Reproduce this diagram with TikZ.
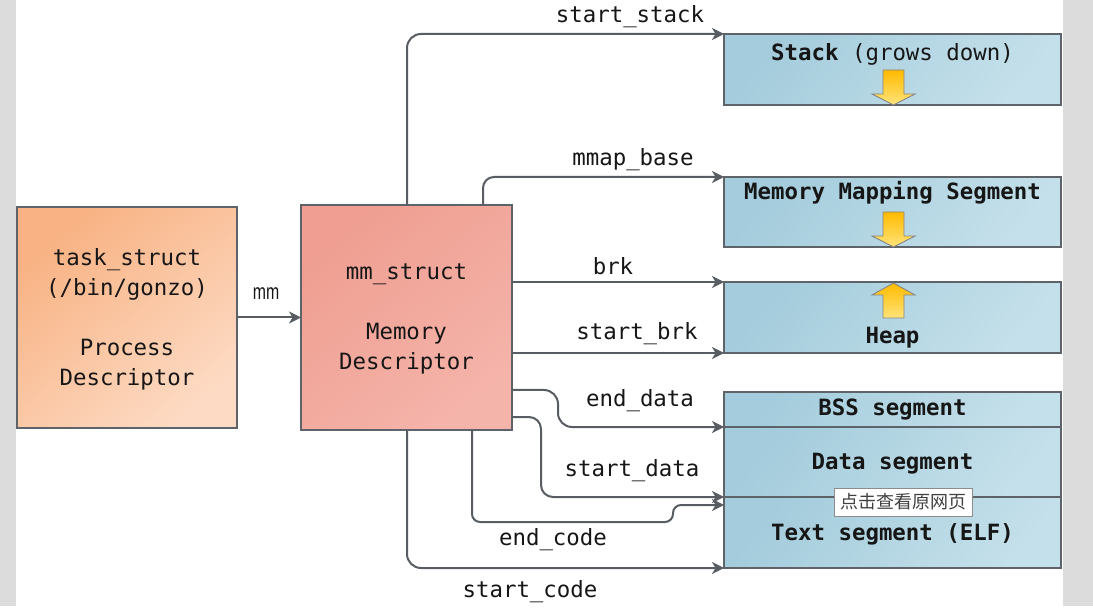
\documentclass[tikz,border=0pt]{standalone}
\usepackage{fontspec}
\setmainfont{DejaVu Sans Mono}
\newfontfamily\labelsans{Liberation Sans}
\newfontfamily\cjkfont{Noto Sans CJK SC}
\usetikzlibrary{arrows.meta,calc}
\definecolor{stripgrey}{HTML}{DCDCDC}
\definecolor{linegrey}{HTML}{585D63}
\definecolor{boxedge}{HTML}{5E6369}
\definecolor{txt}{HTML}{161616}
\definecolor{orangeA}{HTML}{F8B283}
\definecolor{orangeB}{HTML}{FDDAC3}
\definecolor{salmonA}{HTML}{EF9E91}
\definecolor{salmonB}{HTML}{F5B4AA}
\definecolor{blueA}{HTML}{A4CCDC}
\definecolor{blueB}{HTML}{C4E0EA}
\definecolor{yelA}{HTML}{FFBA00}
\definecolor{yelB}{HTML}{FFE47A}
\definecolor{yeledge}{HTML}{858585}
\tikzset{
  box/.style={draw=boxedge, line width=1.8pt, inner sep=0pt, outer sep=0pt, anchor=north west},
  taskbox/.style={box, top color=orangeA, bottom color=orangeB, shading angle=40},
  mmbox/.style={box, top color=salmonA, bottom color=salmonB, shading angle=40},
  segbox/.style={box, top color=blueA, bottom color=blueB, shading angle=50},
  mono/.style={font=\fontsize{22.4}{30}\selectfont, text=txt, inner sep=0pt, align=center},
  segtext/.style={font=\fontsize{22.4}{30}\selectfont\bfseries, text=txt, inner sep=0pt},
  lbl/.style={font=\fontsize{22.4}{30}\selectfont, text=txt, inner sep=0pt},
  conn/.style={draw=linegrey, line width=2pt, -{Stealth[length=12pt,width=12pt,inset=3.5pt]}},
  growarrow/.style={draw=yeledge, line width=0.9pt, top color=yelA, bottom color=yelB},
}
\begin{document}
\begin{tikzpicture}[x=1pt,y=-1pt]
\useasboundingbox (0,0) rectangle (1093,612);
\fill[white] (0,0) rectangle (1093,612);
\fill[stripgrey] (0,0) rectangle (16,606);
\fill[stripgrey] (1063,0) rectangle (1093,606);

% boxes
\node[taskbox, minimum width=220pt, minimum height=221pt] (task) at (17,207) {};
\node[mmbox, minimum width=211pt, minimum height=225pt] (mm) at (301,205) {};
\node[segbox, minimum width=337pt, minimum height=71pt] (stack) at (724,34) {};
\node[segbox, minimum width=337pt, minimum height=70pt] (mms) at (724,177) {};
\node[segbox, minimum width=337pt, minimum height=71pt] (heap) at (724,282) {};
\node[segbox, minimum width=337pt, minimum height=35pt] (bss) at (724,392) {};
\node[segbox, minimum width=337pt, minimum height=70pt] (data) at (724,427) {};
\node[segbox, minimum width=337pt, minimum height=71pt] (text) at (724,497) {};

% box texts
\node[mono] (tasktxt) at (127,319) {task\_struct\\(/bin/gonzo)\\[30pt]Process\\Descriptor};
\node[mono] (mmtxt) at (406.5,319) {mm\_struct\\[30pt]Memory\\Descriptor};
\node[segtext] (stacktxt) at (892.5,54) {Stack \textmd{(grows down)}};
\node[segtext] (mmstxt) at (892.5,193) {Memory Mapping Segment};
\node[segtext] (heaptxt) at (892.5,338) {Heap};
\node[segtext] (bsstxt) at (892.5,410) {BSS segment};
\node[segtext] (datatxt) at (892.5,464) {Data segment};
\node[segtext] (texttxt) at (892.5,534) {Text segment (ELF)};

% growth arrows
\draw[growarrow] (883,70) -- (904,70) -- (904,94) -- (915,94) -- (893.5,105) -- (872,94) -- (883,94) -- cycle;
\draw[growarrow] (883,212) -- (904,212) -- (904,236) -- (915,236) -- (893.5,247) -- (872,236) -- (883,236) -- cycle;
\draw[growarrow] (893.5,283) -- (915,295) -- (904,295) -- (904,318) -- (883,318) -- (883,295) -- (872,295) -- cycle;

% mm connector
\draw[conn] (task.east) -- (mm.west);
\node[font=\labelsans\fontsize{22}{24}\selectfont, text=txt, inner sep=0pt] (mmlbl) at (266,294) {\scalebox{0.72}[1]{mm}};

% connection points
\coordinate (pMmap) at (483,205);
\coordinate (pED) at (512,390);
\coordinate (pEDv) at (558,390);
\coordinate (pEDh) at (558,427);
\coordinate (pSD) at (512,417);
\coordinate (pSDv) at (541,417);
\coordinate (pSDh) at (541,497);
\coordinate (pEC) at (472,430);
\coordinate (pEC1) at (472,522);
\coordinate (pEC2) at (673,522);
\coordinate (pEC3) at (673,505);
\coordinate (pECend) at (724,505);
\coordinate (pSC) at (407,430);
\coordinate (pSS) at (407,205);

% connectors to segments
\draw[conn, rounded corners=14pt] (pSS) |- (stack.north west);
\draw[conn, rounded corners=11pt] (pMmap) |- (mms.north west);
\draw[conn] (heap.north west -| mm.east) -- (heap.north west);
\draw[conn] (heap.south west -| mm.east) -- (heap.south west);
\draw[conn, rounded corners=14pt] (pED) -- (pEDv) -- (pEDh) -- (bss.south west);
\draw[conn, rounded corners=12pt] (pSD) -- (pSDv) -- (pSDh) -- (data.south west);
\draw[conn, rounded corners=8pt] (pEC) -- (pEC1) -- (pEC2) -- (pEC3) -- (pECend);
\draw[conn, rounded corners=14pt] (pSC) |- (text.south west);

% connector labels
\node[lbl] (lss) at (630,17) {start\_stack};
\node[lbl] (lmb) at (633,160) {mmap\_base};
\node[lbl] (lbrk) at (613,266) {brk};
\node[lbl] (lsb) at (637,334) {start\_brk};
\node[lbl] (led) at (640,401) {end\_data};
\node[lbl] (lsd) at (632,471) {start\_data};
\node[lbl] (lec) at (553,540) {end\_code};
\node[lbl] (lsc) at (530,592) {start\_code};

% tooltip
\node[draw=gray!90, fill=white, line width=0.8pt, minimum width=138pt, minimum height=28pt, inner sep=0pt,
      font=\cjkfont\fontsize{18}{20}\selectfont, text=black!75] (tip) at (903,502) {点击查看原网页};
\end{tikzpicture}
\end{document}
